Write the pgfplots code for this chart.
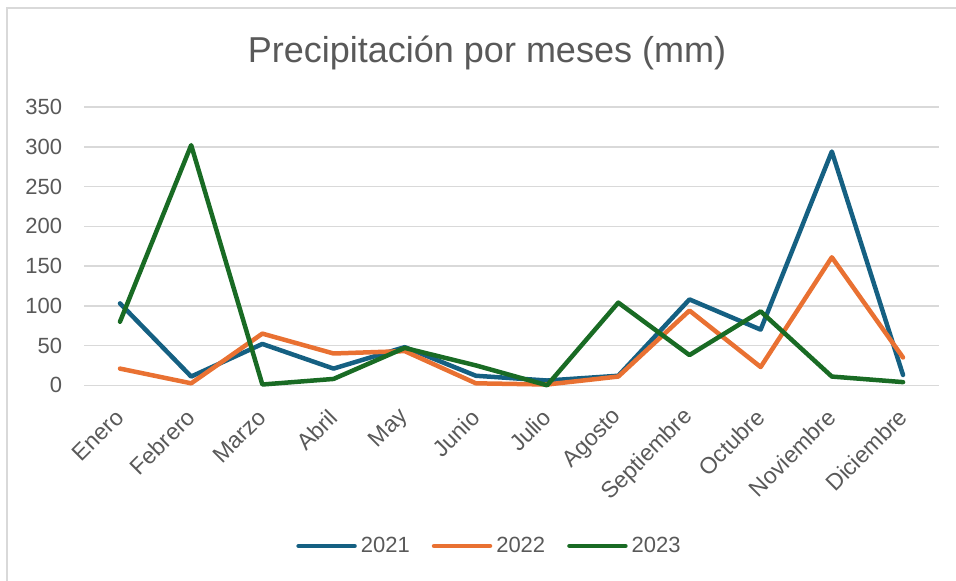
\documentclass[border=0pt]{standalone}
\usepackage{pgfplots}
\pgfplotsset{compat=1.18}
\usepackage{fontspec}
\setmainfont{Liberation Sans}
\definecolor{c21}{HTML}{156082}
\definecolor{c22}{HTML}{E97132}
\definecolor{c23}{HTML}{196B24}
\definecolor{txt}{HTML}{595959}
\definecolor{gridc}{HTML}{D9D9D9}
\begin{document}
\begin{tikzpicture}
\useasboundingbox (0,0) rectangle (478pt,-290.5pt);
\draw[gridc, line width=0.75pt] (3.5pt,-290.5pt) -- (3.5pt,-4pt) -- (478pt,-4pt);
\node[anchor=base, font=\fontsize{18}{20}\selectfont, text=txt, inner sep=0pt] at (243.5pt,-31.5pt) {Precipitación por meses (mm)};
\begin{axis}[
  at={(42.2pt,-192.65pt)}, anchor=south west,
  scale only axis, width=427.1pt, height=139.15pt,
  xmin=-0.5, xmax=11.5, ymin=0, ymax=350,
  ytick={0,50,...,350},
  xtick={0,...,11},
  xticklabels={Enero,Febrero,Marzo,Abril,May,Junio,Julio,Agosto,Septiembre,Octubre,Noviembre,Diciembre},
  axis line style={draw=none},
  tick style={draw=none},
  major tick length=0pt,
  ymajorgrids,
  grid style={color=gridc, line width=0.75pt},
  tick label style={font=\fontsize{11}{13}\selectfont, text=txt},
  yticklabel style={inner sep=0pt, xshift=-11pt},
  xticklabel style={font=\fontsize{11.5}{13}\selectfont, yshift=-14pt, rotate=45, anchor=east, inner sep=0pt},
  /pgf/number format/assume math mode=true,
  clip=false,
  every axis plot/.append style={line width=2.25pt, line join=round, line cap=round, no markers},
  legend style={at={(0.4754,-0.5774)}, anchor=center, draw=none, fill=none,
    font=\fontsize{11}{13}\selectfont, text=txt, legend columns=3,
    /tikz/every even column/.append style={column sep=9pt}, inner sep=0pt,
    nodes={inner sep=2pt}},
  legend image code/.code={\draw[#1, line cap=round] (0pt,0pt) -- (28pt,0pt);},
]
\addplot[c21] coordinates {(0,103) (1,11) (2,52) (3,21) (4,48) (5,12) (6,6) (7,12) (8,108) (9,70) (10,294) (11,13)};
\addlegendentry{2021}
\addplot[c22] coordinates {(0,21) (1,2.5) (2,65) (3,40) (4,43) (5,2.5) (6,1) (7,11) (8,94) (9,23) (10,161) (11,35)};
\addlegendentry{2022}
\addplot[c23] coordinates {(0,80) (1,302) (2,1) (3,8) (4,47) (5,25) (6,0) (7,104) (8,38) (9,93) (10,11) (11,4)};
\addlegendentry{2023}
\end{axis}
\end{tikzpicture}
\end{document}
